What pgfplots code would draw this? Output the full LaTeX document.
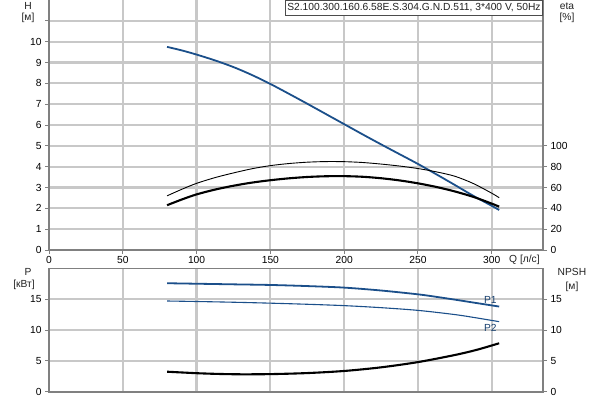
\documentclass[border=0pt]{standalone}
\usepackage{fontspec}
\setmainfont{Liberation Sans}
\usepackage{pgfplots}
\pgfplotsset{compat=1.18}
\definecolor{cblue}{RGB}{27,79,138}
\definecolor{gridcol}{RGB}{200,200,200}
\definecolor{axc}{RGB}{128,128,128}
\definecolor{txt}{RGB}{34,34,34}
\begin{document}
\begin{tikzpicture}
\useasboundingbox (0bp,0bp) rectangle (600bp,-400bp);
\pgfplotsset{
 every axis/.append style={
  scale only axis, width=494bp, xmin=0, xmax=334.7,
  font=\fontsize{10.3}{12}\selectfont,
  /pgf/number format/assume math mode=true,
  axis line style={draw=axc, line width=1.6bp},
  tick style={draw=axc, line width=1bp},
  major tick length=4bp,
  tick align=outside,
  xmajorgrids=true, ymajorgrids=true,
  major grid style={draw=gridcol, line width=2.2bp},
 }
}
% ---------- upper: H and eta ----------
\begin{axis}[at={(49bp,-250bp)}, anchor=south west, height=250bp,
  ymin=0, ymax=12, axis x line*=bottom, axis y line*=left,
  xtick={0,50,...,300}, ytick={0,1,...,11},
  yticklabels={0,1,2,3,4,5,6,7,8,9,10,{}},
  xticklabel style={anchor=base, yshift=-9.3bp}]
\addplot[cblue, line width=1.8bp, smooth] coordinates {
(80,9.75)(90,9.58)(100,9.38)(112.5,9.1)(125,8.78)(137.5,8.4)(150,7.97)(162.5,7.5)(175,7.02)(187.5,6.53)(200,6.04)(212.5,5.55)(225,5.07)(237.5,4.6)(250,4.13)(262.5,3.63)(275,3.12)(287.5,2.6)(300,2.12)(305,1.92)};
\end{axis}
\begin{axis}[at={(49bp,-250bp)}, anchor=south west, height=250bp,
  ymin=0, ymax=240, axis y line*=right, axis x line=none,
  xmajorgrids=false, ymajorgrids=false,
  ytick={0,20,...,100}]
\addplot[black, line width=0.9bp, smooth] coordinates {
(80,52)(90,58.3)(100,64)(112.5,69.5)(125,74)(137.5,78)(150,81)(162.5,83)(175,84.3)(187.5,84.9)(200,84.8)(212.5,84)(225,82.5)(237.5,80.6)(250,78.2)(262.5,75)(275,70.8)(287.5,63.8)(300,54.5)(305,50.2)};
\addplot[black, line width=2.1bp, smooth] coordinates {
(80,43)(90,48.5)(100,53.4)(112.5,58)(125,61.7)(137.5,64.7)(150,67)(162.5,68.8)(175,70.1)(187.5,70.8)(200,70.9)(212.5,70.3)(225,68.9)(237.5,66.8)(250,64)(262.5,60.5)(275,56.2)(287.5,51)(300,44.5)(305,41.6)};
\end{axis}
% ---------- lower: P and NPSH ----------
\begin{axis}[at={(49bp,-268.3bp)}, anchor=north west, height=123.4bp,
  ymin=0, ymax=20, ytick={0,5,10,15}, ytick pos=left,
  xtick={0,50,...,300}, xticklabels={}, xtick style={draw=none}]
\addplot[cblue, line width=1.8bp, smooth] coordinates {
(80,17.58)(100,17.5)(125,17.4)(150,17.3)(175,17.12)(200,16.87)(225,16.4)(250,15.78)(262.5,15.37)(275,14.92)(287.5,14.45)(305,13.8)};
\addplot[cblue, line width=1.1bp, smooth] coordinates {
(80,14.7)(100,14.62)(125,14.5)(150,14.35)(175,14.17)(200,13.95)(225,13.62)(250,13.18)(275,12.5)(290,11.95)(305,11.35)};
\node[text=cblue!80!black] at (axis cs:299,14.9) {P1};
\node[text=cblue!80!black] at (axis cs:299,10.3) {P2};
\end{axis}
\begin{axis}[at={(49bp,-268.3bp)}, anchor=north west, height=123.4bp,
  ymin=0, ymax=20, ytick={0,5,10,15}, ytick pos=right,
  xmajorgrids=false, ymajorgrids=false,
  axis x line=none]
\addplot[black, line width=2.1bp, smooth] coordinates {
(80,3.24)(100,3.0)(115,2.88)(130,2.82)(150,2.85)(175,3.02)(200,3.36)(225,3.95)(250,4.8)(275,5.95)(290,6.8)(305,7.85)};
\end{axis}
% ---------- labels ----------
\begin{scope}[x=1bp, y=1bp, font=\fontsize{10.3}{12}\selectfont, text=txt]
\node at (28,-6) {H};
\node at (28,-18) {[м]};
\node at (567,-6) {eta};
\node at (567,-18) {[\%]};
\node at (28,-272) {P};
\node at (24,-285) {[кВт]};
\node at (572,-272) {NPSH};
\node at (572,-287) {[м]};
\node[anchor=west, inner sep=0pt] at (509,-259.5) {Q [л/с]};
\node[draw=black!70, fill=white, anchor=north east, inner sep=2bp, line width=0.8bp, minimum height=15bp] at (543,0.5) {S2.100.300.160.6.58E.S.304.G.N.D.511, 3*400 V, 50Hz};
\end{scope}
\end{tikzpicture}
\end{document}
